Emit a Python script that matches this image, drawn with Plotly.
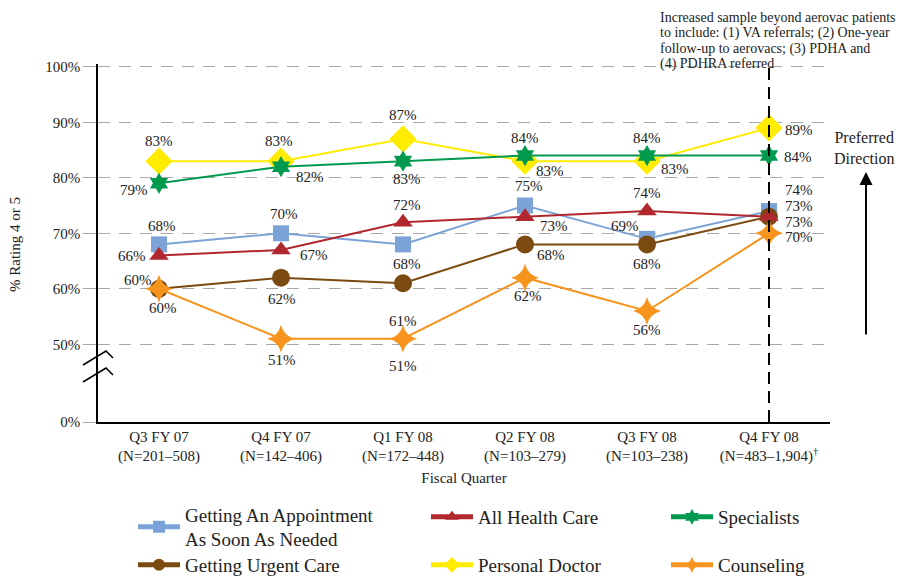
import plotly.graph_objects as go

# ---------------- data ----------------
quarters = ["Q3 FY 07", "Q4 FY 07", "Q1 FY 08", "Q2 FY 08", "Q3 FY 08", "Q4 FY 08"]
sample_sizes = ["(N=201–508)", "(N=142–406)", "(N=172–448)", "(N=103–279)",
                "(N=103–238)", "(N=483–1,904)<sup>†</sup>"]

appointment = [68, 70, 68, 75, 69, 74]
all_health_care = [66, 67, 72, 73, 74, 73]
specialists = [79, 82, 83, 84, 84, 84]
urgent_care = [60, 62, 61, 68, 68, 73]
personal_doctor = [83, 83, 87, 83, 83, 89]
counseling = [60, 51, 51, 62, 56, 70]

y_tick_values = [36, 50, 60, 70, 80, 90, 100]   # 36 = broken-axis position of 0%
y_tick_labels = ["0%", "50%", "60%", "70%", "80%", "90%", "100%"]

note_lines = ["Increased sample beyond aerovac patients",
              "to include: (1) VA referrals; (2) One-year",
              "follow-up to aerovacs; (3) PDHA and",
              "(4) PDHRA referred"]

# ---------------- layout geometry (page pixels) ----------------
W, H = 900, 577
L, R, T, B = 98, 830, 64, 422
FONT = "Liberation Serif, Times New Roman, serif"


def px(x):
    return (x - L) / (R - L)


def py(y):
    return (B - y) / (B - T)


x_idx = list(range(len(quarters)))

series = [
    dict(name="Personal Doctor", vals=personal_doctor, color="#FFEC00", symbol="diamond", size=21,
         off=[(0, -20), (-2, -20), (0, -24), (25, 10), (28, 8), (30, 2)], leg=(478, 565)),
    dict(name="Getting An Appointment<br>As Soon As Needed", vals=appointment, color="#7BA3D8",
         symbol="square", size=16,
         off=[(3, -18), (3, -19), (4, 20), (4, -20), (-22, -13), (30, -21)], leg=(185, 527)),
    dict(name="Getting Urgent Care", vals=urgent_care, color="#7A4A10", symbol="circle", size=18,
         off=[(-21, -9), (1, 21), (0, 38), (26, 11), (0, 20), (30, -11)], leg=(185, 565)),
    dict(name="All Health Care", vals=all_health_care, color="#B0282E", symbol="triangle-up", size=17,
         off=[(-27, 1), (33, 5), (4, -17), (29, 9), (0, -18), (30, 5)], leg=(478, 517)),
    dict(name="Specialists", vals=specialists, color="#009A4E", symbol="hexagram", size=16,
         off=[(-25, 7), (29, 10), (4, 18), (0, -18), (0, -18), (29, 1)], leg=(718, 517)),
    dict(name="Counseling", vals=counseling, color="#F7941D", symbol="star-diamond", size=20,
         off=[(4, 19), (1, 21), (0, 27), (3, 18), (0, 19), (30, 4)], leg=(718, 565)),
]

fig = go.Figure()
annotations = []
layout_legends = {}

for i, s in enumerate(series):
    leg_id = "legend" if i == 0 else f"legend{i + 1}"
    fig.add_trace(go.Scatter(
        x=x_idx, y=s["vals"], mode="lines+markers", name=s["name"],
        line=dict(color=s["color"], width=2),
        marker=dict(color=s["color"], symbol=s["symbol"], size=s["size"],
                    line=dict(width=0)),
        legend=leg_id, showlegend=True, hoverinfo="x+y+name",
    ))
    lx, ly = s["leg"]
    layout_legends[leg_id] = dict(
        x=px(lx - 52), y=py(ly), xanchor="left", yanchor="middle",
        orientation="v", bgcolor="rgba(0,0,0,0)",
        font=dict(family=FONT, size=19, color="#222"),
        itemwidth=42, itemsizing="constant",
    )
    for xi, (v, (dx, dy)) in enumerate(zip(s["vals"], s["off"])):
        annotations.append(dict(
            x=xi, y=v, xref="x", yref="y", text=f"{v}%", showarrow=False,
            xshift=dx, yshift=-dy, font=dict(family=FONT, size=15, color="#222"),
        ))

# top note, one line at a time for tight spacing
for k, line in enumerate(note_lines):
    annotations.append(dict(
        x=px(658), y=py(18 + 15.3 * k), xref="paper", yref="paper", xanchor="left",
        yanchor="middle", align="left", showarrow=False, text=line,
        font=dict(family=FONT, size=14, color="#222"),
    ))
# preferred direction
annotations.append(dict(
    x=px(864), y=py(148), xref="paper", yref="paper", xanchor="center", yanchor="middle",
    showarrow=False, text="Preferred<br>Direction", font=dict(family=FONT, size=16, color="#222"),
))
annotations.append(dict(
    x=px(866), y=py(172), xref="paper", yref="paper", text=" ", showarrow=True,
    ax=0, ay=172, arrowhead=2, arrowsize=1.3, arrowwidth=2, arrowcolor="black",
))
# y-axis title
annotations.append(dict(
    x=px(15), y=py(245), xref="paper", yref="paper", text="% Rating 4 or 5", textangle=-90,
    xanchor="center", yanchor="middle",
    showarrow=False, font=dict(family=FONT, size=15, color="#222"),
))

shapes = [
    dict(type="line", xref="x", yref="y", x0=5, x1=5, y0=36, y1=100.5,
         line=dict(color="black", width=2, dash="12px,7px")),
]
for off in (0, 17):
    pts = [(83, 365 + off), (106, 351 + off), (113, 358 + off)]
    path = "M " + " L ".join(f"{px(a)},{py(b)}" for a, b in pts)
    shapes.append(dict(type="path", xref="paper", yref="paper", path=path,
                       line=dict(color="black", width=1.5)))

fig.update_layout(
    width=W, height=H,
    margin=dict(l=L, r=W - R, t=T, b=H - B, autoexpand=False),
    paper_bgcolor="white", plot_bgcolor="white",
    font=dict(family=FONT, size=15, color="#222"),
    annotations=annotations, shapes=shapes,
    **layout_legends,
)
fig.update_xaxes(
    range=[-0.5, 5.5], tickvals=x_idx,
    ticktext=[f"{q}<br>{n}" for q, n in zip(quarters, sample_sizes)],
    showgrid=False, zeroline=False, showline=True, linecolor="black", linewidth=1.5,
    ticks="", tickfont=dict(family=FONT, size=15, color="#222"),
    title=dict(text="Fiscal Quarter", font=dict(family=FONT, size=15, color="#222"), standoff=8),
    automargin=False,
)
fig.update_yaxes(
    range=[36, 100.5], tickvals=y_tick_values, ticktext=y_tick_labels,
    showgrid=True, gridcolor="#a8a8a8", gridwidth=1.3, griddash="12px,9px",
    zeroline=False, showline=True, linecolor="black", linewidth=1.5,
    ticks="outside", ticklen=13, tickcolor="#a8a8a8", tickwidth=1.3,
    tickfont=dict(family=FONT, size=15, color="#222"), automargin=False,
)

fig.write_html(
    "out.html",
    config={"displayModeBar": False},
    post_script="document.body.style.margin='0px';document.body.style.overflow='hidden';",
)
